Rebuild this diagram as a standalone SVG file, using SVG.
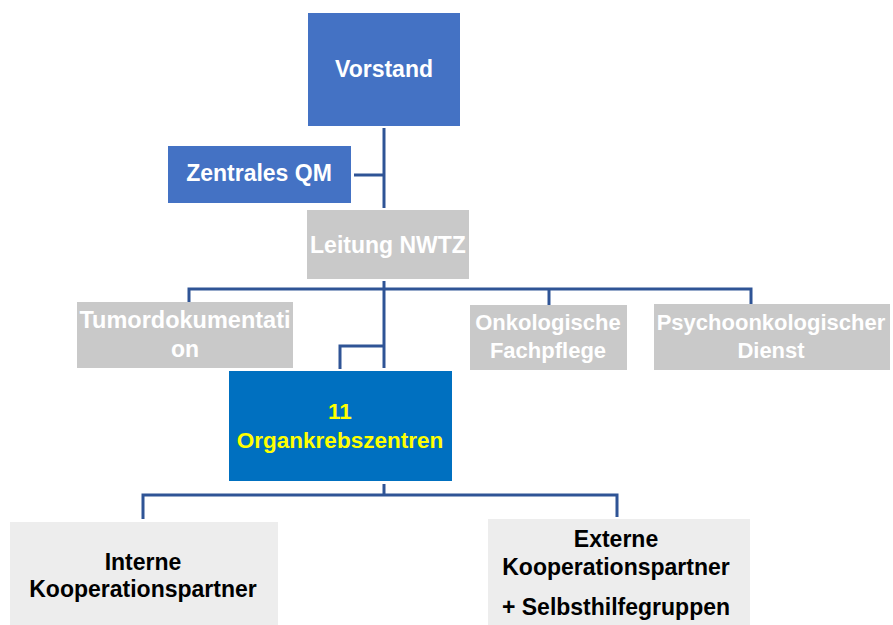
<svg xmlns="http://www.w3.org/2000/svg" width="893" height="625" viewBox="0 0 893 625">
<style>
text{font-family:"Liberation Sans",Arial,sans-serif;font-weight:bold;text-anchor:middle;font-size:22px}
.blue{fill:#4472C4}
.gray{fill:#C9C9C9}
.dark{fill:#0070C0}
.light{fill:#EDEDED}
.w{fill:#FFFFFF}
.y{fill:#FFFF00;font-size:22.5px}
.k{fill:#000000;font-size:23px}
.big{font-size:23px}
.c{fill:none;stroke:#2F5496;stroke-width:3}
</style>
<rect width="893" height="625" fill="#FFFFFF"/>
<g id="connectors">
<path class="c" d="M384 128V208"/>
<path class="c" d="M354 175H384"/>
<path class="c" d="M384 281V368"/>
<path class="c" d="M189 303V289H751V304"/>
<path class="c" d="M549 289V305"/>
<path class="c" d="M384 346H340V369"/>
<path class="c" d="M384 484V495"/>
<path class="c" d="M143 519V495H617V517"/>
</g>
<g id="vorstand"><rect class="blue" x="308" y="13" width="152" height="113"/><text class="w big" x="384" y="77">Vorstand</text></g>
<g id="zentrales-qm"><rect class="blue" x="168" y="146" width="183" height="57"/><text class="w big" x="259" y="181">Zentrales QM</text></g>
<g id="leitung-nwtz"><rect class="gray" x="307" y="210" width="162" height="69"/><text class="w big" x="388" y="253">Leitung NWTZ</text></g>
<g id="tumordokumentation"><rect class="gray" x="77" y="302" width="216" height="66"/><text class="w" x="185" y="328" style="font-size:23.5px">Tumordokumentati</text><text class="w big" x="185" y="357">on</text></g>
<g id="onkologische-fachpflege"><rect class="gray" x="470" y="305" width="157" height="65"/><text class="w" x="548" y="330">Onkologische</text><text class="w" x="548" y="358">Fachpflege</text></g>
<g id="psychoonkologischer-dienst"><rect class="gray" x="654" y="304" width="236" height="66"/><text class="w" x="771" y="330">Psychoonkologischer</text><text class="w" x="771" y="358">Dienst</text></g>
<g id="organkrebszentren"><rect class="dark" x="229" y="371" width="223" height="110"/><text class="y" x="340" y="419">11</text><text class="y" x="340" y="448">Organkrebszentren</text></g>
<g id="interne"><rect class="light" x="10" y="522" width="268" height="103"/><text class="k" x="143" y="570">Interne</text><text class="k" x="143" y="597">Kooperationspartner</text></g>
<g id="externe"><rect class="light" x="488" y="519" width="262" height="106"/><text class="k" x="616" y="547">Externe</text><text class="k" x="616" y="575">Kooperationspartner</text><text class="k" x="616" y="615">+ Selbsthilfegruppen</text></g>
</svg>
